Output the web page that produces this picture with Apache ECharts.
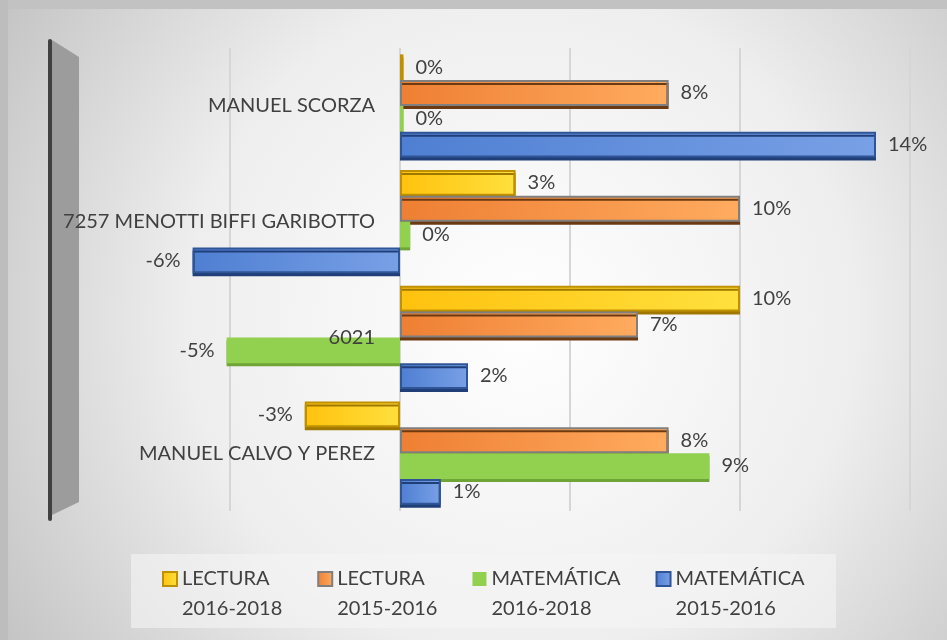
<!DOCTYPE html>
<html>
<head>
<meta charset="utf-8">
<title>Lectura / Matemática</title>
<script src="https://cdn.jsdelivr.net/npm/echarts@6/dist/echarts.min.js"></script>
<style>
  html, body { margin: 0; padding: 0; background: #bdbdbd; }
  #main { width: 947px; height: 640px; }
</style>
</head>
<body>
<div id="main"></div>
<script>
  // categorias (de abajo hacia arriba, como en el eje)
  var categories = ['MANUEL CALVO Y PEREZ', '6021', '7257 MENOTTI BIFFI GARIBOTTO', 'MANUEL SCORZA'];

  // variacion en % por colegio
  var lectura1618 = [-2.8, 10.0, 3.4, 0.1];
  var lectura1516 = [7.9, 7.0, 10.0, 7.9];
  var matematica1618 = [9.1, -5.1, 0.3, 0.1];
  var matematica1516 = [1.2, 2.0, -6.1, 14.0];

  var seriesNames = ['LECTURA\n2016-2018', 'LECTURA\n2015-2016', 'MATEMÁTICA\n2016-2018', 'MATEMÁTICA\n2015-2016'];

  var axisMin = -10, axisMax = 15, axisStep = 5;

  var textColor = '#404040';
  var font = 'Lato';

  var gridLeft = 60, gridRight = 37, chartWidth = 947;
  // las etiquetas de categoria van pegadas al eje del cero (como en Excel)
  var zeroOffset = (0 - axisMin) / (axisMax - axisMin) * (chartWidth - gridLeft - gridRight);
  var labelGap = 25;

  // icono cuadrado arriba + punto invisible abajo, para alinear con la 1a linea
  var legendIcon = 'path://M0,0L14,0L14,14L0,14Z M0,44L0,44';

  function grad(c1, c2) {
    return { type: 'linear', x: 0, y: 0, x2: 1, y2: 0, colorStops: [{ offset: 0, color: c1 }, { offset: 1, color: c2 }] };
  }

  function makeSeries(name, values, fill, border, shadow) {
    return {
      name: name,
      type: 'bar',
      barGap: '0%',
      barCategoryGap: '11%',
      data: values.map(function (v) {
        // etiqueta al extremo exterior de la barra
        return { value: v, label: { position: v < 0 ? 'left' : 'right' } };
      }),
      itemStyle: {
        color: fill,
        borderColor: border,
        borderWidth: border ? 2 : 0,
        shadowColor: shadow,
        shadowOffsetY: 3,
        shadowBlur: 0
      },
      label: {
        show: true,
        distance: 12,
        fontSize: 20,
        fontFamily: font,
        color: textColor,
        formatter: function (p) { return Math.round(p.value) + '%'; }
      }
    };
  }

  var mychart = echarts.init(document.getElementById('main'));

  var options = {
    backgroundColor: {
      type: 'radial', x: 0.55, y: 0.5, r: 0.95,
      colorStops: [{ offset: 0, color: '#ffffff' }, { offset: 0.55, color: '#eeeeee' }, { offset: 1, color: '#c4c4c4' }]
    },
    textStyle: { fontFamily: font },
    grid: { left: gridLeft, right: gridRight, top: 48, bottom: 129, containLabel: false, outerBoundsMode: 'none' },
    legend: {
      data: seriesNames.map(function (n) { return { name: n, icon: legendIcon }; }),
      left: 157,
      top: 559,
      itemGap: 35,
      itemWidth: 14,
      itemHeight: 44,
      textStyle: { fontSize: 20, fontFamily: font, color: textColor, lineHeight: 30 }
    },
    xAxis: {
      type: 'value',
      min: axisMin,
      max: axisMax,
      interval: axisStep,
      axisLabel: { show: false },
      axisLine: { show: false },
      axisTick: { show: false },
      splitLine: { showMinLine: false, lineStyle: { color: '#d6d6d6', width: 2 } }
    },
    yAxis: {
      type: 'category',
      data: categories,
      z: 10,  // el texto queda encima de barras y pared
      axisLine: { show: false },
      axisTick: { show: false },
      axisLabel: { fontSize: 20, fontFamily: font, color: textColor, margin: -(zeroOffset - labelGap) }
    },
    graphic: [
      // franjas del borde
      { type: 'rect', shape: { x: 0, y: 0, width: 947, height: 9 }, style: { fill: '#c2c2c2' }, z: 0 },
      { type: 'rect', shape: { x: 0, y: 0, width: 8, height: 640 }, style: { fill: '#bdbdbd' }, z: 0 },
      // cuadro de la leyenda
      { type: 'rect', shape: { x: 131, y: 554, width: 705, height: 74 }, style: { fill: 'rgba(245,245,245,0.6)' }, z: 0 },
      // pared lateral 3D
      { type: 'polygon', shape: { points: [[52, 40], [79, 57], [79, 502], [52, 515]] }, style: { fill: '#9c9c9c' }, z: 1 },
      { type: 'line', shape: { x1: 50, y1: 41, x2: 50, y2: 519 }, style: { stroke: '#404040', lineWidth: 4, lineCap: 'round' }, z: 1 }
    ],
    series: [
      makeSeries(seriesNames[0], lectura1618, grad('#ffc20e', '#ffe03d'), '#bf9000', '#a07800'),
      makeSeries(seriesNames[1], lectura1516, grad('#ee7f33', '#ffab5f'), '#7f7f7f', '#6b3a12'),
      makeSeries(seriesNames[2], matematica1618, '#92d050', null, '#6fa536'),
      makeSeries(seriesNames[3], matematica1516, grad('#4f7fd2', '#78a0e6'), '#2f5597', '#203f78')
    ]
  };

  mychart.setOption(options);
</script>
</body>
</html>
